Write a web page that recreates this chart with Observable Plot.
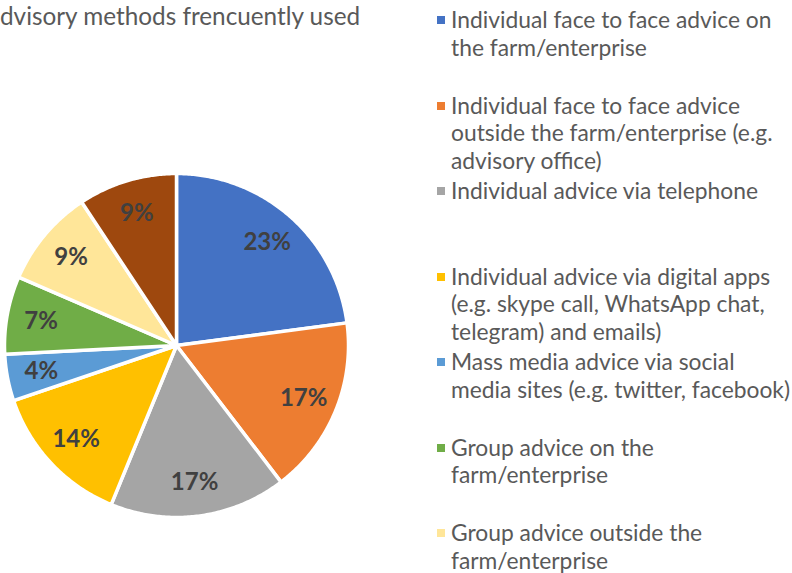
<!DOCTYPE html>
<html><head><meta charset="utf-8">
<script src="https://cdn.jsdelivr.net/npm/d3@7"></script>
<script src="https://cdn.jsdelivr.net/npm/@observablehq/plot@0.6"></script>
<style>
body{margin:0;background:#fff;}
#wrap{position:relative;width:792px;height:573px;overflow:hidden;font-family:Lato,"Open Sans",sans-serif;color:#595959;}
#title{position:absolute;left:0;top:1px;font-size:24.3px;line-height:30px;white-space:nowrap;}
#chart{position:absolute;left:0;top:0;}
#legend{position:absolute;left:437px;top:0;width:355px;height:573px;}
.item{position:absolute;left:0;width:355px;}
.sw{position:absolute;left:0;width:8px;height:8px;}
.lab{position:absolute;left:14px;top:0;font-size:22.8px;line-height:27.5px;white-space:pre;}
</style></head><body>
<div id="wrap"><div id="chart"></div><div id="title"></div><div id="legend"></div></div>
<script>
const titleText = "dvisory methods frencuently used";
const categories = [
  "Individual face to face advice on\nthe farm/enterprise",
  "Individual face to face advice\noutside the farm/enterprise (e.g.\nadvisory office)",
  "Individual advice via telephone",
  "Individual advice via digital apps\n(e.g. skype call, WhatsApp chat,\ntelegram) and emails)",
  "Mass media advice via social\nmedia sites (e.g. twitter, facebook)",
  "Group advice on the\nfarm/enterprise",
  "Group advice outside the\nfarm/enterprise",
  "Other"
];
const values = [22.9, 16.7, 16.6, 13.6, 4.4, 7.3, 9.2, 9.3];
const colors = ["#4472C4", "#ED7D31", "#A5A5A5", "#FFC000", "#5B9BD5", "#70AD47", "#FFE699", "#9E480E"];

document.getElementById("title").textContent = titleText;

const data = categories.map((c, i) => ({category: c, value: values[i]}));
const arcs = d3.pie().sort(null).value(d => d.value)(data);
const R = 172;
const pts = [];
const labels = [];
arcs.forEach(a => {
  const c = a.data.category;
  pts.push({category: c, x: 0, y: 0});
  const n = Math.max(2, Math.ceil((a.endAngle - a.startAngle) / 0.01));
  for (let k = 0; k <= n; k++) {
    const t = a.startAngle + (a.endAngle - a.startAngle) * k / n;
    pts.push({category: c, x: R * Math.sin(t), y: R * Math.cos(t)});
  }
  pts.push({category: c, x: 0, y: 0});
  const m = (a.startAngle + a.endAngle) / 2;
  const r = R * 0.80;
  labels.push({x: r * Math.sin(m), y: r * Math.cos(m), label: Math.round(a.data.value) + "%"});
});

const chart = Plot.plot({
  width: 430, height: 573, margin: 0,
  x: {domain: [-176, 254], axis: null},
  y: {domain: [-228, 345], axis: null},
  color: {domain: categories, range: colors},
  style: {background: "transparent"},
  marks: [
    Plot.line(pts, {x: "x", y: "y", z: "category", fill: "category", stroke: "white", strokeWidth: 3.5, curve: "linear"}),
    Plot.text(labels, {x: "x", y: "y", text: "label", fill: "#404040", fontSize: 24, fontWeight: "bold", fontFamily: "Lato, sans-serif"})
  ]
});
document.getElementById("chart").appendChild(chart);

const legend = document.getElementById("legend");
categories.forEach((c, i) => {
  const top = 6 + 85.5 * i;
  if (top > 573) return; // item lies entirely below the visible area
  const item = document.createElement("div");
  item.className = "item";
  item.style.top = top + "px";
  const sw = document.createElement("div");
  sw.className = "sw";
  sw.style.background = colors[i];
  sw.style.top = "10px";
  const lab = document.createElement("div");
  lab.className = "lab";
  lab.textContent = c;
  item.appendChild(sw);
  item.appendChild(lab);
  legend.appendChild(item);
});
</script>
</body></html>
